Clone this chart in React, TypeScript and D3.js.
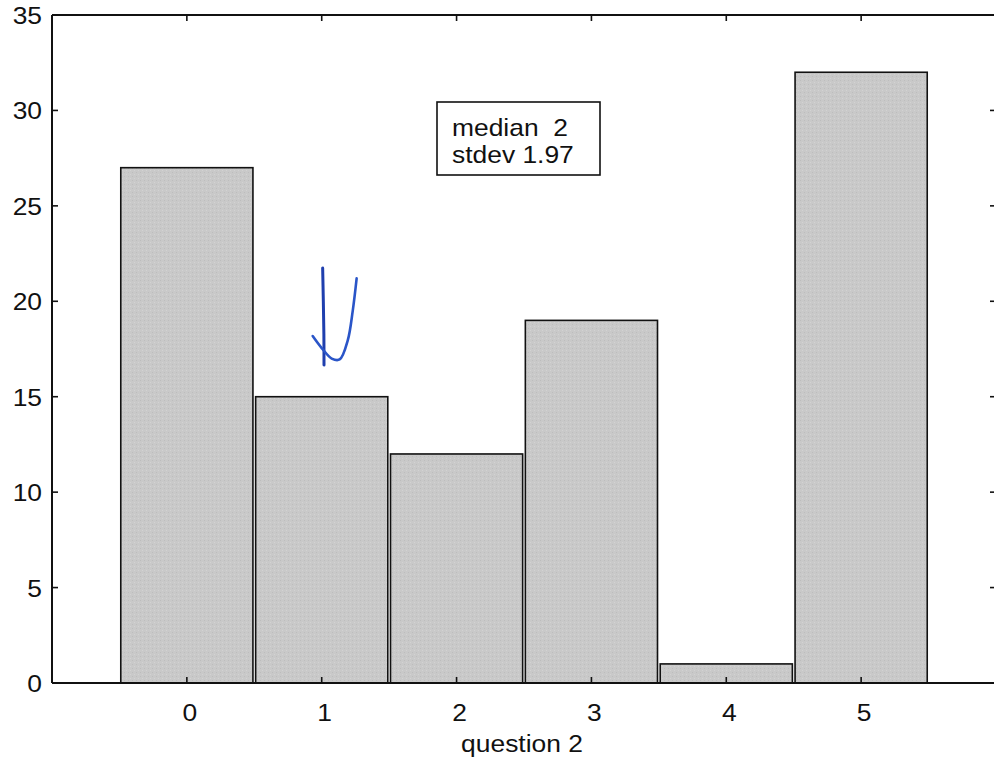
import React from "react";
import * as d3 from "d3";

const categories = [0, 1, 2, 3, 4, 5];
const counts = [27, 15, 12, 19, 1, 32];
const yTicks = [0, 5, 10, 15, 20, 25, 30, 35];
const xLabel = "question 2";
const statsLines = ["median  2", "stdev 1.97"];
// handwritten blue annotation, in data units
const penStroke1: [number, number][] = [
  [1.007, 21.74], [1.012, 20.0], [1.016, 18.3], [1.017, 16.66],
];
const penStroke2: [number, number][] = [
  [0.933, 18.18], [1.0, 17.55], [1.074, 17.0], [1.133, 16.95], [1.193, 17.95], [1.23, 19.5], [1.259, 21.2],
];

const W = 994;
const H = 767;
const SX = 1.1;

function T({ x, y, anchor = "start", children }: { x: number; y: number; anchor?: string; children: React.ReactNode }) {
  return (
    <g transform={`translate(${x},${y}) scale(${SX},1)`}>
      <text x={0} y={0} textAnchor={anchor as any} fontSize={24} fill="#111" style={{ whiteSpace: "pre" }}>
        {children}
      </text>
    </g>
  );
}

export default function App() {
  const x = d3.scaleLinear().domain([-1, 6]).range([52, 996]);
  const y = d3.scaleLinear().domain([0, 35]).range([683, 15]);
  const font = "'Liberation Sans', Arial, Helvetica, sans-serif";
  const barFill = "#c9c9c9";
  const line = d3
    .line<[number, number]>()
    .x((d) => x(d[0]))
    .y((d) => y(d[1]))
    .curve(d3.curveCatmullRom);

  return (
    <svg
      width={W}
      height={H}
      style={{ position: "absolute", left: 0, top: 0, background: "#fff" }}
      fontFamily={font}
    >
      <defs>
        <pattern id="grain" width="4" height="4" patternUnits="userSpaceOnUse">
          <rect width="4" height="4" fill={barFill} />
          <rect x="0" y="0" width="1" height="1" fill="#bdbdbd" />
          <rect x="2" y="2" width="1" height="1" fill="#d3d3d3" />
        </pattern>
      </defs>
      {/* bars */}
      {categories.map((c, i) => (
        <rect
          key={c}
          x={x(c - 0.49)}
          y={y(counts[i])}
          width={x(c + 0.49) - x(c - 0.49)}
          height={y(0) - y(counts[i])}
          fill="url(#grain)"
          stroke="#111"
          strokeWidth={1.6}
        />
      ))}
      {/* axes frame */}
      <line x1={x(-1)} x2={x(6)} y1={y(0)} y2={y(0)} stroke="#111" strokeWidth={2} />
      <line x1={x(-1)} x2={x(6)} y1={y(35)} y2={y(35)} stroke="#111" strokeWidth={2} />
      <line x1={x(-1)} x2={x(-1)} y1={y(0)} y2={y(35)} stroke="#111" strokeWidth={2} />
      <line x1={x(6)} x2={x(6)} y1={y(0)} y2={y(35)} stroke="#111" strokeWidth={2} />
      {/* y ticks */}
      {yTicks.map((t) => (
        <g key={t}>
          <line x1={x(-1)} x2={x(-1) + 6} y1={y(t)} y2={y(t)} stroke="#111" strokeWidth={1.6} />
          <line x1={x(6)} x2={x(6) - 6} y1={y(t)} y2={y(t)} stroke="#111" strokeWidth={1.6} />
          <T x={x(-1) - 10} y={y(t) + 9} anchor="end">
            {t}
          </T>
        </g>
      ))}
      {/* x ticks */}
      {categories.map((c) => (
        <g key={c}>
          <line x1={x(c)} x2={x(c)} y1={y(35)} y2={y(35) + 6} stroke="#111" strokeWidth={1.6} />
          <line x1={x(c)} x2={x(c)} y1={y(0)} y2={y(0) - 6} stroke="#111" strokeWidth={1.6} />
          <T x={x(c) + 3} y={721} anchor="middle">
            {c}
          </T>
        </g>
      ))}
      <T x={522} y={752} anchor="middle">
        {xLabel}
      </T>
      {/* stats box */}
      <rect x={437} y={102} width={163} height={73} fill="#fff" stroke="#111" strokeWidth={1.6} />
      {statsLines.map((s, i) => (
        <T key={i} x={452} y={136 + i * 27}>
          {s}
        </T>
      ))}
      {/* handwritten mark */}
      <path d={line(penStroke1) || ""} fill="none" stroke="#1f3fae" strokeWidth={3} strokeLinecap="round" />
      <path d={line(penStroke2) || ""} fill="none" stroke="#2a55c8" strokeWidth={2.6} strokeLinecap="round" />
    </svg>
  );
}
